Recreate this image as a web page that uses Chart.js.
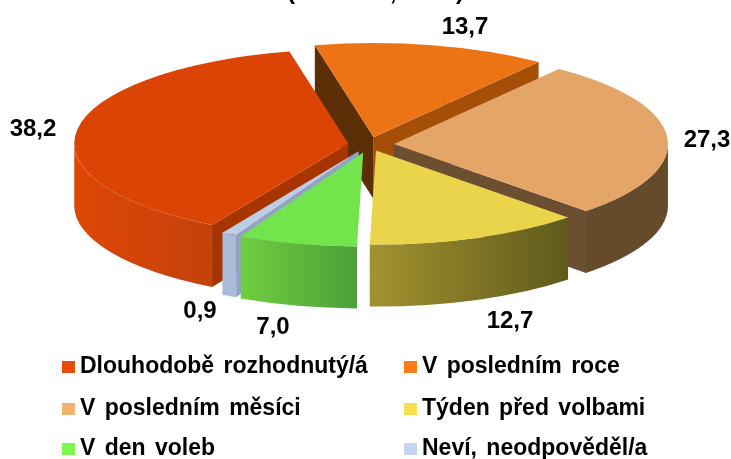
<!DOCTYPE html>
<html lang="cs">
<head>
<meta charset="utf-8">
<title>Doba rozhodnutí</title>
<script src="https://cdn.jsdelivr.net/npm/chart.js@4"></script>
<style>
    html, body { margin: 0; padding: 0; background: #fff; }
    canvas { display: block; }
</style>
</head>
<body>
<canvas id="chart" width="731" height="459"></canvas>
<script>
const categories = ['Dlouhodobě rozhodnutý/á', 'V posledním roce', 'V posledním měsíci', 'Týden před volbami', 'V den voleb', 'Neví, neodpověděl/a'];
const values = [38.2, 13.7, 27.3, 12.7, 7.0, 0.9];

const capColors = ['#DC4405', '#EC7414', '#E4A668', '#E9D44C', '#74E44C', '#BCCDE8'];
const legendColors = ['#E84C0A', '#F97C1A', '#F4B26E', '#F5E050', '#7CF850', '#C5D5EE'];
const wallColors = [
    ['#DE4605', '#C4420C'],
    ['#A84F08', '#A84F08'],
    ['#654A2B', '#654A2B'],
    ['#A3922F', '#5F5A1C'],
    ['#6FCE3E', '#4E9F3A'],
    ['#A9BBD6', '#A9BBD6']
];
// [lado inicial, lado final] de cada fatia
const faceColors = [
    ['#A83400', '#A83400'],
    ['#5C2E05', '#A44E08'],
    ['#6B4F30', '#6B4F30'],
    ['#8A7C28', '#8A7C28'],
    ['#4C9A34', '#4C9A34'],
    ['#8FA4C8', '#8FA4C8']
];

const PIE = { radius: 274, squash: 0.343, depth: 62 };
// quanto cada fatia sai do centro
const explodeBy = [21, 22, 25, 19, 24, 22];

// posição dos rótulos de valor [x central, linha de base]
const labelPos = [[33, 136], [465, 34], [707, 147], [510, 328], [273, 334], [200, 318]];
// legenda em duas colunas
const legendCols = [62, 404];
const legendRows = [373, 415, 455];

const LABEL_FONT = 'bold 24px "Liberation Sans", Arial, sans-serif';
const LEGEND_FONT = 'bold 23px "Liberation Sans", Arial, sans-serif';

function drawFace(ctx, arc, angle, dx, dy, color) {
    const { radius, squash, depth } = PIE;
    const ax = arc.x + dx, ay = arc.y + dy;
    const rx = ax + radius * Math.cos(angle), ry = ay + radius * squash * Math.sin(angle);
    ctx.fillStyle = color;
    ctx.beginPath();
    ctx.moveTo(ax, ay);
    ctx.lineTo(rx, ry);
    ctx.lineTo(rx, ry + depth);
    ctx.lineTo(ax, ay + depth);
    ctx.closePath();
    ctx.fill();
}

function drawWall(ctx, arc, dx, dy, colors) {
    const { radius, squash, depth } = PIE;
    const cx = arc.x + dx, cy = arc.y + dy;
    // só a metade da frente do cilindro aparece
    [0, Math.PI * 2].forEach(k => {
        const lo = Math.max(arc.startAngle, k), hi = Math.min(arc.endAngle, k + Math.PI);
        if (hi <= lo) return;
        const x0 = cx + radius * Math.cos(hi), x1 = cx + radius * Math.cos(lo);
        const grad = ctx.createLinearGradient(x0, 0, x1, 0);
        grad.addColorStop(0, colors[0]);
        grad.addColorStop(1, colors[1]);
        ctx.fillStyle = grad;
        ctx.beginPath();
        ctx.ellipse(cx, cy, radius, radius * squash, 0, lo - k, hi - k);
        ctx.ellipse(cx, cy + depth, radius, radius * squash, 0, hi - k, lo - k, true);
        ctx.closePath();
        ctx.fill();
    });
}

const pie3d = {
    id: 'pie3d',
    beforeDatasetDraw(chart) {
        const ctx = chart.ctx;
        const { squash } = PIE;
        const arcs = chart.getDatasetMeta(0).data.map((arc, i) => {
            const mid = (arc.startAngle + arc.endAngle) / 2;
            return {
                arc, i,
                dx: Math.cos(mid) * explodeBy[i],
                dy: Math.sin(mid) * explodeBy[i] * squash,
                order: Math.sin(mid)
            };
        });
        // de trás para a frente
        arcs.sort((a, b) => a.order - b.order);
        arcs.forEach(({ arc, i, dx, dy }) => {
            if (Math.cos(arc.startAngle) < -0.1) drawFace(ctx, arc, arc.startAngle, dx, dy, faceColors[i][0]);
            if (Math.cos(arc.endAngle) > 0.1) drawFace(ctx, arc, arc.endAngle, dx, dy, faceColors[i][1]);
            drawWall(ctx, arc, dx, dy, wallColors[i]);
            ctx.save();
            ctx.translate(arc.x + dx, arc.y + dy);
            ctx.scale(1, squash);
            ctx.translate(-arc.x, -arc.y);
            arc.draw(ctx);
            ctx.restore();
        });
        return false;
    },
    afterDraw(chart) {
        const ctx = chart.ctx;
        ctx.save();
        ctx.fillStyle = '#000';
        ctx.font = LABEL_FONT;
        ctx.textBaseline = 'alphabetic';

        // título cortado pela borda de cima
        ctx.textAlign = 'center';
        ctx.fillText('(', 291, -1);
        ctx.fillText(',', 393, 0);
        ctx.fillText(')', 460, -1);

        values.forEach((v, i) => {
            ctx.fillText(v.toFixed(1).replace('.', ','), labelPos[i][0], labelPos[i][1]);
        });

        ctx.font = LEGEND_FONT;
        ctx.wordSpacing = '3px';
        ctx.textAlign = 'left';
        categories.forEach((name, i) => {
            const x = legendCols[i % 2], y = legendRows[Math.floor(i / 2)];
            ctx.fillStyle = legendColors[i];
            ctx.fillRect(x, y - 12, 13, 12);
            ctx.fillStyle = '#000';
            ctx.fillText(name, x + 18, y);
        });
        ctx.restore();
    }
};

new Chart(document.getElementById('chart'), {
    type: 'pie',
    data: {
        labels: categories,
        datasets: [{
            data: values,
            backgroundColor: capColors,
            borderWidth: 0
        }]
    },
    options: {
        responsive: false,
        animation: false,
        rotation: 209.8,
        radius: PIE.radius,
        layout: { padding: { left: 7, bottom: 170 } },
        plugins: {
            legend: { display: false },
            tooltip: { enabled: false }
        }
    },
    plugins: [pie3d]
});
</script>
</body>
</html>
